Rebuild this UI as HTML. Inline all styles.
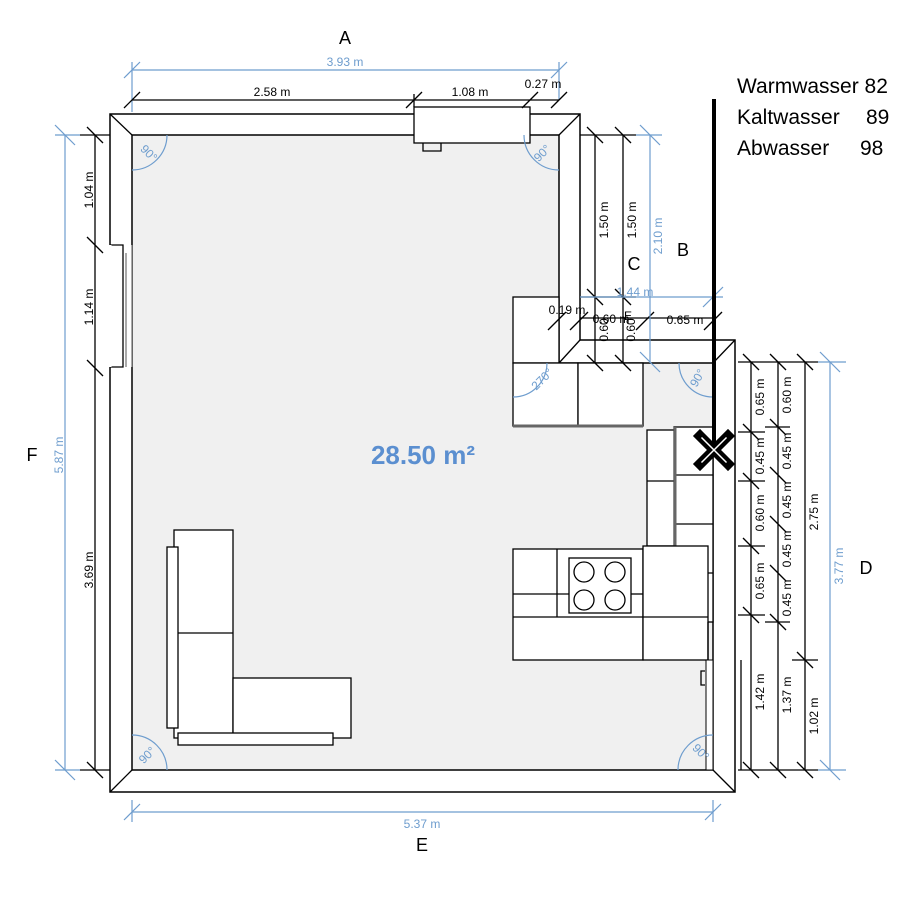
<!DOCTYPE html>
<html><head><meta charset="utf-8"><style>
html,body{margin:0;padding:0;background:#fff;}
svg{display:block;font-family:"Liberation Sans",sans-serif;}
.k{stroke:#000;stroke-width:1.3;fill:none}
.b{stroke:#6e9dce;stroke-width:1.2;fill:none}
.w{fill:#fff;stroke:#000;stroke-width:1.3}
.t{font-size:12px;fill:#000}
.tb{font-size:12px;fill:#6e9dce}
</style></head><body>
<svg width="900" height="900" viewBox="0 0 900 900" xmlns="http://www.w3.org/2000/svg">
<!-- walls -->
<path d="M110,114 H580 V340 H735 V792 H110 Z" fill="#fff" stroke="#000" stroke-width="1.5"/>
<path d="M132,135 H559 V363 H713 V770 H132 Z" fill="#f0f0f0" stroke="#000" stroke-width="1.5"/>
<g class="k">
<line x1="110" y1="114" x2="132" y2="135"/><line x1="580" y1="114" x2="559" y2="135"/>
<line x1="580" y1="340" x2="559" y2="363"/><line x1="735" y1="340" x2="713" y2="363"/>
<line x1="110" y1="792" x2="132" y2="770"/><line x1="735" y1="792" x2="713" y2="770"/>
</g>
<!-- left window -->
<rect x="100" y="245" width="32" height="122" fill="#fff"/>
<path d="M110,245 H123 V367 H110" class="k"/>
<line x1="126" y1="253" x2="126" y2="367" stroke="#555" stroke-width="1"/>
<line x1="132" y1="245" x2="132" y2="367" stroke="#555" stroke-width="1"/>
<line x1="110" y1="245" x2="110" y2="367" stroke="#fff" stroke-width="3"/>
<!-- top window box -->
<rect x="414" y="107" width="116" height="36" class="w"/>
<path d="M423,143 v8 h18 v-8" class="k" stroke-width="2"/>
<!-- upper cabinets -->
<rect x="513" y="297" width="46" height="66" class="w"/>
<rect x="513" y="363" width="65" height="63" class="w"/>
<rect x="578" y="363" width="65" height="63" class="w"/>
<line x1="513" y1="426" x2="643" y2="426" stroke="#666" stroke-width="3"/>
<!-- right columns -->
<rect x="647" y="430" width="28" height="116" class="w"/>
<line x1="647" y1="481" x2="675" y2="481" class="k"/>
<rect x="674" y="427" width="39" height="195" class="w"/>
<line x1="674" y1="475" x2="713" y2="475" class="k"/>
<line x1="674" y1="524" x2="713" y2="524" class="k"/>
<line x1="674" y1="573" x2="713" y2="573" class="k"/>
<line x1="675" y1="427" x2="675" y2="622" stroke="#666" stroke-width="3"/>
<!-- base counter -->
<rect x="513" y="549" width="130" height="111" class="w"/>
<rect x="643" y="546" width="65" height="114" class="w"/>
<line x1="557" y1="549" x2="557" y2="617" class="k"/>
<line x1="513" y1="594" x2="569" y2="594" class="k"/>
<line x1="631" y1="594" x2="643" y2="594" class="k"/>
<line x1="513" y1="617" x2="708" y2="617" class="k"/>
<rect x="569" y="558" width="62" height="55" class="w"/>
<g class="k" stroke-width="1"><circle cx="584" cy="572" r="10"/><circle cx="615" cy="572" r="10"/><circle cx="584" cy="600" r="10"/><circle cx="615" cy="600" r="10"/></g>
<line x1="708" y1="622" x2="708" y2="660" class="k"/>
<rect x="706" y="660" width="7" height="110" fill="#fff" stroke="#000"/>
<path d="M705,671 h-4 v14 h4" class="k" stroke-width="2"/>
<!-- sofa -->
<rect x="174" y="530" width="59" height="208" class="w"/>
<line x1="178" y1="633" x2="233" y2="633" class="k" stroke-width="1.6"/>
<rect x="167" y="547" width="11" height="181" class="w"/>
<rect x="233" y="678" width="118" height="60" class="w"/>
<rect x="178" y="733" width="155" height="12" class="w"/>
<!-- angle arcs -->
<g class="b">
<path d="M132,170 A35,35 0 0 0 167,135"/><path d="M524,135 A35,35 0 0 0 559,170"/>
<path d="M132,735 A35,35 0 0 1 167,770"/><path d="M678,770 A35,35 0 0 1 713,735"/>
<path d="M547,363 A34,34 0 0 1 513,397"/><path d="M713,397 A34,34 0 0 1 679,363"/>
</g>
<g class="tb" font-size="11">
<text transform="translate(146,156) rotate(45)" text-anchor="middle">90°</text>
<text transform="translate(545,156) rotate(-45)" text-anchor="middle">90°</text>
<text transform="translate(150,758) rotate(-45)" text-anchor="middle">90°</text>
<text transform="translate(698,755) rotate(45)" text-anchor="middle">90°</text>
<text transform="translate(545,382) rotate(-45)" text-anchor="middle">270°</text>
<text transform="translate(701,380) rotate(-60)" text-anchor="middle">90°</text>
</g>
<!-- top dims -->
<line x1="132" y1="70" x2="559" y2="70" class="b"/>
<g class="b"><line x1="124" y1="78" x2="140" y2="62"/><line x1="551" y1="78" x2="567" y2="62"/><line x1="132" y1="62" x2="132" y2="112"/><line x1="559" y1="62" x2="559" y2="100"/></g>
<text x="345" y="66" class="tb" text-anchor="middle" font-size="11">3.93 m</text>
<line x1="132" y1="100" x2="559" y2="100" class="k"/>
<g class="k"><line x1="124" y1="108" x2="140" y2="92"/><line x1="406" y1="108" x2="422" y2="92"/><line x1="522" y1="108" x2="538" y2="92"/><line x1="551" y1="108" x2="567" y2="92"/><line x1="414" y1="94" x2="414" y2="107"/></g>
<text x="272" y="96" class="t" text-anchor="middle">2.58 m</text>
<text x="470" y="96" class="t" text-anchor="middle">1.08 m</text>
<text x="543" y="88" class="t" text-anchor="middle">0.27 m</text>
<text x="345" y="44" font-size="18" text-anchor="middle">A</text>
<!-- left dims -->
<line x1="95" y1="135" x2="95" y2="770" class="k"/>
<g class="k"><line x1="87" y1="127" x2="103" y2="143"/><line x1="87" y1="237" x2="103" y2="253"/><line x1="87" y1="360" x2="103" y2="376"/><line x1="87" y1="762" x2="103" y2="778"/><line x1="80" y1="135" x2="110" y2="135"/><line x1="80" y1="770" x2="110" y2="770"/></g>
<text transform="translate(93,190) rotate(-90)" class="t" text-anchor="middle">1.04 m</text>
<text transform="translate(93,307) rotate(-90)" class="t" text-anchor="middle">1.14 m</text>
<text transform="translate(93,570) rotate(-90)" class="t" text-anchor="middle">3.69 m</text>
<line x1="65" y1="135" x2="65" y2="770" class="b"/>
<g class="b"><line x1="55" y1="125" x2="75" y2="145"/><line x1="55" y1="760" x2="75" y2="780"/><line x1="55" y1="135" x2="80" y2="135"/><line x1="55" y1="770" x2="80" y2="770"/></g>
<text transform="translate(63,455) rotate(-90)" class="tb" text-anchor="middle" font-size="11">5.87 m</text>
<text x="32" y="461" font-size="18" text-anchor="middle">F</text>
<!-- bottom dim -->
<line x1="132" y1="812" x2="713" y2="812" class="b"/>
<g class="b"><line x1="124" y1="820" x2="140" y2="804"/><line x1="705" y1="820" x2="721" y2="804"/><line x1="132" y1="800" x2="132" y2="822"/><line x1="713" y1="800" x2="713" y2="822"/></g>
<text x="422" y="828" class="tb" text-anchor="middle" font-size="11">5.37 m</text>
<text x="422" y="851" font-size="18" text-anchor="middle">E</text>
<!-- upper right dims -->
<g class="k">
<line x1="595" y1="135" x2="595" y2="363"/><line x1="623" y1="135" x2="623" y2="363"/>
<line x1="580" y1="135" x2="636" y2="135"/>
<line x1="587" y1="127" x2="603" y2="143"/><line x1="615" y1="127" x2="631" y2="143"/>
<line x1="587" y1="289" x2="603" y2="305"/><line x1="615" y1="289" x2="631" y2="305"/>
<line x1="580" y1="297" x2="636" y2="297"/>
<line x1="580" y1="318" x2="713" y2="318"/>
<line x1="548" y1="330" x2="566" y2="312"/><line x1="570" y1="330" x2="588" y2="312"/>
<line x1="636" y1="330" x2="654" y2="312"/><line x1="704" y1="330" x2="722" y2="312"/>
<line x1="587" y1="355" x2="603" y2="371"/><line x1="615" y1="355" x2="631" y2="371"/>
</g>
<text transform="translate(608,220) rotate(-90)" class="t" text-anchor="middle">1.50 m</text>
<text transform="translate(636,220) rotate(-90)" class="t" text-anchor="middle">1.50 m</text>
<line x1="650" y1="135" x2="650" y2="363" class="b"/>
<line x1="580" y1="297" x2="723" y2="297" class="b"/>
<g class="b"><line x1="640" y1="125" x2="660" y2="145"/><line x1="636" y1="135" x2="662" y2="135"/><line x1="640" y1="352" x2="660" y2="372"/><line x1="703" y1="307" x2="723" y2="287"/></g>
<text transform="translate(662,236) rotate(-90)" class="tb" text-anchor="middle" font-size="11">2.10 m</text>
<text x="635" y="296" class="tb" text-anchor="middle" font-size="12">1.44 m</text>
<text x="567" y="314" class="t" text-anchor="middle">0.19 m</text>
<text x="611" y="323" class="t" text-anchor="middle">0.60 m</text>
<text x="628" y="320" class="t" text-anchor="middle">E</text>
<text x="685" y="324" class="t" text-anchor="middle">0.65 m</text>
<text transform="translate(608,330) rotate(-90)" class="t" text-anchor="middle">0.60</text>
<text transform="translate(635,330) rotate(-90)" class="t" text-anchor="middle">0.60</text>
<text x="634" y="270" font-size="18" text-anchor="middle">C</text>
<text x="683" y="256" font-size="18" text-anchor="middle">B</text>
<!-- right dims -->
<g class="k">
<line x1="751" y1="362" x2="751" y2="770"/><line x1="778" y1="362" x2="778" y2="770"/><line x1="805" y1="362" x2="805" y2="770"/>
<line x1="738" y1="362" x2="818" y2="362"/><line x1="738" y1="770" x2="818" y2="770"/>
<line x1="743" y1="354" x2="759" y2="370"/><line x1="770" y1="354" x2="786" y2="370"/><line x1="797" y1="354" x2="813" y2="370"/>
<line x1="743" y1="762" x2="759" y2="778"/><line x1="770" y1="762" x2="786" y2="778"/><line x1="797" y1="762" x2="813" y2="778"/>
<line x1="743" y1="424" x2="759" y2="440"/><line x1="743" y1="473" x2="759" y2="489"/><line x1="743" y1="538" x2="759" y2="554"/><line x1="743" y1="607" x2="759" y2="623"/>
<line x1="738" y1="432" x2="765" y2="432"/><line x1="738" y1="481" x2="765" y2="481"/><line x1="738" y1="546" x2="765" y2="546"/><line x1="738" y1="615" x2="765" y2="615"/>
<line x1="770" y1="419" x2="786" y2="435"/><line x1="770" y1="467" x2="786" y2="483"/><line x1="770" y1="516" x2="786" y2="532"/><line x1="770" y1="565" x2="786" y2="581"/><line x1="770" y1="614" x2="786" y2="630"/>
<line x1="765" y1="427" x2="790" y2="427"/><line x1="765" y1="622" x2="790" y2="622"/>
<line x1="797" y1="652" x2="813" y2="668"/><line x1="792" y1="660" x2="818" y2="660"/>
<line x1="741" y1="660" x2="741" y2="770"/>
</g>
<g class="t">
<text transform="translate(764,397) rotate(-90)" text-anchor="middle">0.65 m</text>
<text transform="translate(764,456) rotate(-90)" text-anchor="middle">0.45 m</text>
<text transform="translate(764,513) rotate(-90)" text-anchor="middle">0.60 m</text>
<text transform="translate(764,581) rotate(-90)" text-anchor="middle">0.65 m</text>
<text transform="translate(764,692) rotate(-90)" text-anchor="middle">1.42 m</text>
<text transform="translate(791,395) rotate(-90)" text-anchor="middle">0.60 m</text>
<text transform="translate(791,451) rotate(-90)" text-anchor="middle">0.45 m</text>
<text transform="translate(791,500) rotate(-90)" text-anchor="middle">0.45 m</text>
<text transform="translate(791,549) rotate(-90)" text-anchor="middle">0.45 m</text>
<text transform="translate(791,598) rotate(-90)" text-anchor="middle">0.45 m</text>
<text transform="translate(791,695) rotate(-90)" text-anchor="middle">1.37 m</text>
<text transform="translate(818,512) rotate(-90)" text-anchor="middle">2.75 m</text>
<text transform="translate(818,716) rotate(-90)" text-anchor="middle">1.02 m</text>
</g>
<line x1="830" y1="362" x2="830" y2="770" class="b"/>
<g class="b"><line x1="820" y1="352" x2="840" y2="372"/><line x1="820" y1="760" x2="840" y2="780"/><line x1="818" y1="362" x2="846" y2="362"/><line x1="818" y1="770" x2="846" y2="770"/></g>
<text transform="translate(843,566) rotate(-90)" class="tb" text-anchor="middle" font-size="11">3.77 m</text>
<text x="866" y="574" font-size="18" text-anchor="middle">D</text>
<!-- area -->
<text x="423" y="464" font-size="26" font-weight="bold" fill="#5b8fd0" text-anchor="middle">28.50 m²</text>
<!-- pipe -->
<line x1="714" y1="99" x2="714" y2="450" stroke="#000" stroke-width="4"/>
<g stroke-linecap="square">
<path d="M700,436 L728,464 M728,436 L700,464" stroke="#000" stroke-width="10"/>
<path d="M702,438 L726,462 M726,438 L702,462" stroke="#fff" stroke-width="1.5"/>
</g>
<g font-size="21" fill="#000">
<text x="737" y="93">Warmwasser 82</text>
<text x="737" y="124">Kaltwasser</text><text x="866" y="124">89</text>
<text x="737" y="155">Abwasser</text><text x="860" y="155">98</text>
</g>
</svg>
</body></html>
